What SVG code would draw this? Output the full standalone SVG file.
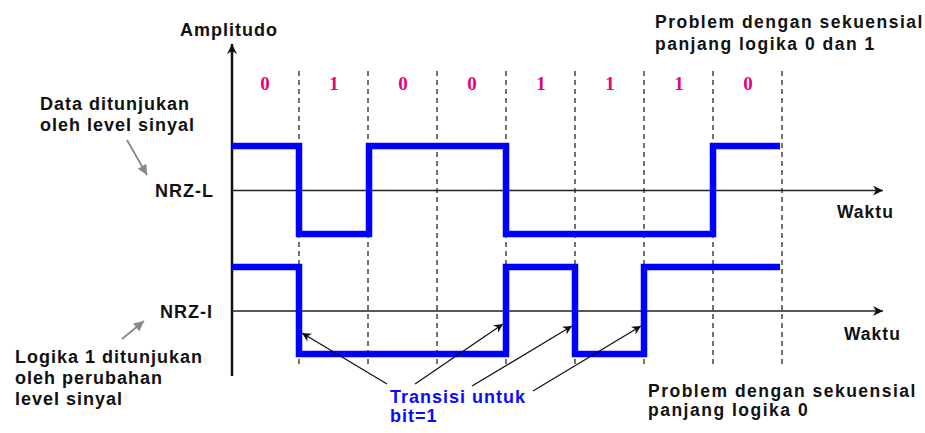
<svg xmlns="http://www.w3.org/2000/svg" width="925" height="433" viewBox="0 0 925 433">
<style>
.t{font-family:"Liberation Sans",Arial,sans-serif;font-weight:bold;font-size:17px;fill:#111;letter-spacing:1px}
.pr{font-size:17.5px;letter-spacing:1.5px}
.bit{font-family:"Liberation Serif","Times New Roman",serif;font-weight:bold;font-size:19px;fill:#e8007c;text-anchor:middle}
.blue{fill:#0a0aff;font-size:18px}
.dash{stroke:#444;stroke-width:1.5;stroke-dasharray:5,4}
.axis{stroke:#222;stroke-width:1.3;fill:none}
.sig{stroke:#0000ff;stroke-width:6.5;fill:none;stroke-linejoin:miter}
.ptr{stroke:#111;stroke-width:1.3;fill:none}
.gray{stroke:#888;stroke-width:1.8;fill:none}
</style>
<defs>
<marker id="ah" viewBox="0 0 10 10" refX="10" refY="5" markerWidth="22" markerHeight="10" markerUnits="userSpaceOnUse" orient="auto"><path d="M0,0 L10,5 L0,10 L3,5 Z" fill="#111"/></marker>
<marker id="ahs" viewBox="0 0 10 10" refX="10" refY="5" markerWidth="13" markerHeight="9" markerUnits="userSpaceOnUse" orient="auto"><path d="M0,0 L10,5 L0,10 L3,5 Z" fill="#111"/></marker>
<marker id="ahg" viewBox="0 0 10 10" refX="10" refY="5" markerWidth="12" markerHeight="10" markerUnits="userSpaceOnUse" orient="auto"><path d="M0,0 L10,5 L0,10 Z" fill="#888"/></marker>
</defs>
<rect width="925" height="433" fill="#ffffff"/>

<g id="grid">
<line class="dash" x1="299" y1="71" x2="299" y2="364"/>
<line class="dash" x1="368" y1="71" x2="368" y2="364"/>
<line class="dash" x1="437" y1="71" x2="437" y2="364"/>
<line class="dash" x1="506" y1="71" x2="506" y2="364"/>
<line class="dash" x1="575" y1="71" x2="575" y2="364"/>
<line class="dash" x1="644" y1="71" x2="644" y2="364"/>
<line class="dash" x1="713" y1="71" x2="713" y2="364"/>
<line class="dash" x1="782" y1="71" x2="782" y2="364"/>
</g>

<g id="bits">
<text class="bit" x="265" y="90">0</text>
<text class="bit" x="334" y="90">1</text>
<text class="bit" x="403" y="90">0</text>
<text class="bit" x="472" y="90">0</text>
<text class="bit" x="541" y="90">1</text>
<text class="bit" x="610" y="90">1</text>
<text class="bit" x="679" y="90">1</text>
<text class="bit" x="748" y="90">0</text>
</g>

<g id="axes">
<line x1="232" y1="376" x2="232" y2="44" stroke="#111" stroke-width="2.5" marker-end="url(#ah)"/>
<line class="axis" x1="232" y1="190.5" x2="883" y2="190.5" marker-end="url(#ah)"/>
<line class="axis" x1="232" y1="311" x2="883" y2="311" marker-end="url(#ah)"/>
</g>

<g id="nrz-l">
<polyline class="sig" points="232,146 299,146 299,234 369,234 369,146 506,146 506,234 713,234 713,146 780,146"/>
</g>
<g id="nrz-i">
<polyline class="sig" points="232,267 299,267 299,354 506,354 506,267 575,267 575,354 644,354 644,267 780,267"/>
</g>

<g id="connectors">
<line class="ptr" x1="387" y1="384" x2="302" y2="333" marker-end="url(#ahs)"/>
<line class="ptr" x1="415" y1="384" x2="503" y2="324" marker-end="url(#ahs)"/>
<line class="ptr" x1="472" y1="386" x2="572" y2="326" marker-end="url(#ahs)"/>
<line class="ptr" x1="533" y1="391" x2="641" y2="326" marker-end="url(#ahs)"/>
<line class="gray" x1="127" y1="140" x2="147" y2="175" marker-end="url(#ahg)"/>
<line class="gray" x1="122" y1="339" x2="144" y2="321" marker-end="url(#ahg)"/>
</g>

<g id="labels">
<text class="t" x="180" y="36" style="font-size:18px">Amplitudo</text>
<text class="t pr" x="655" y="28">Problem dengan sekuensial</text>
<text class="t pr" x="655" y="50">panjang logika 0 dan 1</text>
<text class="t" x="40" y="110" style="font-size:18px">Data ditunjukan</text>
<text class="t" x="40" y="131" style="font-size:18px">oleh level sinyal</text>
<text class="t" x="155" y="197" style="font-size:18px">NRZ-L</text>
<text class="t" x="160" y="318" style="font-size:18px">NRZ-I</text>
<text class="t" x="837" y="218" style="font-size:17.5px">Waktu</text>
<text class="t" x="844" y="340" style="font-size:17.5px">Waktu</text>
<text class="t" x="15" y="363" style="font-size:18px">Logika 1 ditunjukan</text>
<text class="t" x="15" y="384" style="font-size:18px">oleh perubahan</text>
<text class="t" x="15" y="405" style="font-size:18px">level sinyal</text>
<text class="t blue" x="390" y="403">Transisi untuk</text>
<text class="t blue" x="390" y="422">bit=1</text>
<text class="t pr" x="648" y="397">Problem dengan sekuensial</text>
<text class="t pr" x="648" y="416">panjang logika 0</text>
</g>
</svg>
